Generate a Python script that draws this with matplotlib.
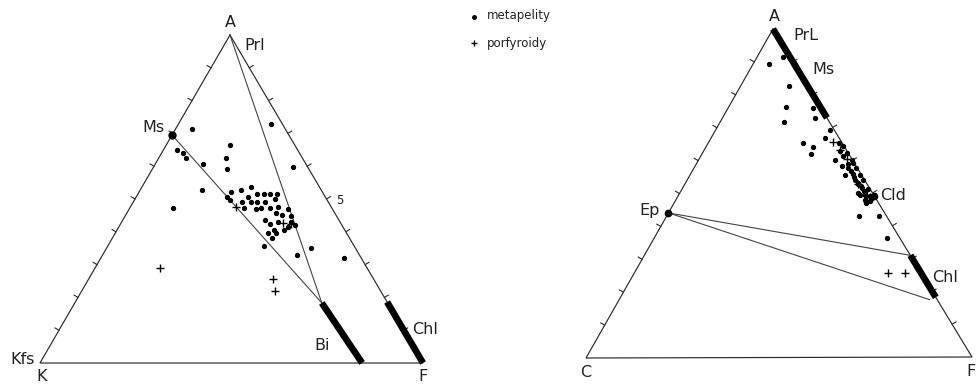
import numpy as np
import matplotlib
matplotlib.use('Agg')
import matplotlib.pyplot as plt

# A-K-F diagram (percent A, percent F; K is the rest)
akf_dots_A = [71.3, 72.9, 66.5, 64.9, 64.0, 62.5, 62.5, 59.8, 60.7, 59.1, 52.7, 47.3,
              52.0, 52.7, 53.8, 51.5, 51.5, 51.5, 51.5, 50.7, 49.7, 50.7, 49.0, 49.0,
              49.2, 49.2, 50.0, 47.2, 46.9, 47.2, 47.3, 47.7, 46.9, 45.6, 45.1, 44.9,
              43.6, 42.3, 43.1, 43.1, 42.1, 41.6, 40.5, 40.5, 39.5, 39.5, 38.2, 35.8,
              32.9, 35.0, 32.0]
akf_dots_F = [4.3, 24.2, 16.6, 3.6, 5.6, 7.1, 17.5, 36.4, 12.5, 19.5, 16.1, 11.3,
              24.2, 26.3, 28.4, 31.2, 32.9, 34.5, 36.4, 23.6, 25.0, 29.2, 28.4, 30.7,
              32.3, 34.4, 36.6, 29.9, 33.1, 34.2, 36.6, 38.4, 41.4, 38.9, 40.7, 43.3,
              37.1, 39.1, 40.8, 44.2, 45.7, 44.2, 41.1, 43.7, 40.0, 41.9, 41.7, 40.8,
              50.7, 53.3, 63.5]
akf_cross_A = [29.0, 25.6, 22.0, 47.7, 42.6, 42.4]
akf_cross_F = [17.0, 48.1, 50.5, 27.5, 42.4, 44.5]

akf_ms = (69.5, 0.0)
akf_bi = [(18.3, 64.5), (0.0, 84.1)]
akf_chl = [(18.6, 81.4), (0.0, 100.0)]

# A-C-F diagram (percent A, percent F; C is the rest)
acf_dots_A = [89.4, 91.5, 82.7, 76.3, 71.7, 76.0, 72.9, 69.3, 66.9, 65.3, 64.1, 62.0,
              65.3, 64.2, 62.7, 62.2, 61.2, 60.2, 60.2, 59.2, 58.1, 57.7, 57.7, 55.6,
              55.9, 55.6, 54.1, 53.9, 52.6, 51.6, 51.1, 50.1, 49.5, 49.0, 48.0, 48.2,
              58.8, 56.8, 54.8, 53.2, 52.0, 50.6, 49.4, 47.6, 46.9,
              42.9, 42.9, 36.2]
acf_dots_F = [4.1, 6.7, 12.5, 14.8, 16.6, 22.0, 24.0, 29.6, 29.5, 24.6, 27.7, 28.2,
              34.0, 35.5, 35.4, 37.6, 36.9, 35.4, 39.7, 40.5, 38.1, 40.0, 42.1, 40.2,
              42.1, 44.0, 43.5, 45.6, 45.1, 46.4, 48.4, 46.3, 48.3, 49.8, 49.0, 50.6,
              39.3, 41.2, 43.0, 44.6, 46.0, 47.4, 47.0, 50.5, 49.8,
              50.0, 55.2, 60.5]
acf_cross_A = [25.5, 25.5, 65.7, 63.0, 60.5, 52.6, 49.5, 48.8]
acf_cross_F = [65.9, 70.3, 32.2, 35.2, 38.2, 45.1, 48.8, 50.0]

acf_prl = [(100.0, 0.0), (72.9, 27.1)]
acf_cld = (49.2, 50.8)
acf_ep = (44.1, 0.0)
acf_chl = [(31.0, 69.0), (18.2, 81.8)]
acf_ep_ties = [(31.0, 69.0), (17.5, 80.5)]

# triangle corners in figure pixels: top (A), lower left, lower right
TRI_L = np.array([[230, 35], [40, 363], [423, 363]], float)
TRI_R = np.array([[773, 29], [586, 358], [972, 357]], float)


def tern(tri, a, f):
    a = np.asarray(a, float) / 100.
    f = np.asarray(f, float) / 100.
    b = 1. - a - f
    x = a * tri[0, 0] + b * tri[1, 0] + f * tri[2, 0]
    y = a * tri[0, 1] + b * tri[1, 1] + f * tri[2, 1]
    return x, y


def draw_frame(ax, tri, tick_edges):
    xs = list(tri[:, 0]) + [tri[0, 0]]
    ys = list(tri[:, 1]) + [tri[0, 1]]
    ax.plot(xs, ys, color='#2a2a2a', lw=0.85, solid_joinstyle='miter')
    cen = tri.mean(axis=0)
    for i, j in tick_edges:
        p, q = tri[i], tri[j]
        d = (q - p) / np.linalg.norm(q - p)
        n = np.array([-d[1], d[0]])
        if np.dot(n, (p + q) / 2 - cen) < 0:
            n = -n
        for t in np.arange(0.1, 0.95, 0.1):
            s = p + t * (q - p)
            e = s + 4.5 * n
            ax.plot([s[0], e[0]], [s[1], e[1]], color='#2a2a2a', lw=0.8)


def line(ax, tri, p0, p1, **kw):
    x, y = tern(tri, [p0[0], p1[0]], [p0[1], p1[1]])
    ax.plot(x, y, **kw)


fig = plt.figure(figsize=(9.78, 3.9), dpi=100)
ax = fig.add_axes([0, 0, 1, 1])
ax.set_xlim(0, 978)
ax.set_ylim(390, 0)
ax.axis('off')

tie = dict(color='#444444', lw=0.8)
bar = dict(color='black', lw=4.8, solid_capstyle='butt')
dot = dict(ls='none', marker='o', ms=2.8, color='black')
crs = dict(ls='none', marker='+', ms=6, mew=1.0, color='black')
lab = dict(fontsize=11.5, color='#222222', family='DejaVu Sans')

# ---- A-K-F ----
draw_frame(ax, TRI_L, [(0, 1), (0, 2)])
line(ax, TRI_L, (100, 0), akf_bi[0], **tie)
line(ax, TRI_L, akf_ms, akf_bi[0], **tie)
line(ax, TRI_L, akf_bi[0], akf_bi[1], **bar)
line(ax, TRI_L, akf_chl[0], akf_chl[1], **bar)
x, y = tern(TRI_L, *akf_ms)
ax.plot(x, y, 'o', ms=5, color='black')
x, y = tern(TRI_L, akf_dots_A, akf_dots_F)
ax.plot(x, y, **dot)
x, y = tern(TRI_L, akf_cross_A, akf_cross_F)
ax.plot(x, y, **crs)

ax.text(230, 30, 'A', ha='center', va='bottom', **lab)
ax.text(244, 45, 'Prl', ha='left', va='center', **lab)
ax.text(165, 128, 'Ms', ha='right', va='center', **lab)
ax.text(35, 360, 'Kfs', ha='right', va='center', **lab)
ax.text(42, 369, 'K', ha='center', va='top', **lab)
ax.text(423, 369, 'F', ha='center', va='top', **lab)
ax.text(322, 346, 'Bi', ha='center', va='center', **lab)
ax.text(412, 329, 'Chl', ha='left', va='center', **lab)
ax.text(336, 200, '5', ha='left', va='center', fontsize=8.5, color='#222222')

# legend
ax.plot([474], [17], **dict(dot, ms=2.5))
ax.text(487, 16, 'metapelity', ha='left', va='center', fontsize=8.5, color='#222222')
ax.plot([474], [43], **dict(crs, ms=5))
ax.text(487, 43, 'porfyroidy', ha='left', va='center', fontsize=8.5, color='#222222')

# ---- A-C-F ----
draw_frame(ax, TRI_R, [(0, 1), (0, 2)])
line(ax, TRI_R, acf_ep, acf_ep_ties[0], **tie)
line(ax, TRI_R, acf_ep, acf_ep_ties[1], **tie)
line(ax, TRI_R, acf_prl[0], acf_prl[1], **bar)
line(ax, TRI_R, acf_chl[0], acf_chl[1], **bar)
for pt in (acf_cld, acf_ep):
    x, y = tern(TRI_R, *pt)
    ax.plot(x, y, 'o', ms=4.5, color='black')
x, y = tern(TRI_R, acf_dots_A, acf_dots_F)
ax.plot(x, y, **dot)
x, y = tern(TRI_R, acf_cross_A, acf_cross_F)
ax.plot(x, y, **crs)

ax.text(774, 24, 'A', ha='center', va='bottom', **lab)
ax.text(793, 36, 'PrL', ha='left', va='center', **lab)
ax.text(812, 70, 'Ms', ha='left', va='center', **lab)
ax.text(880, 195, 'Cld', ha='left', va='center', **lab)
ax.text(660, 211, 'Ep', ha='right', va='center', **lab)
ax.text(932, 277, 'Chl', ha='left', va='center', **lab)
ax.text(586, 365, 'C', ha='center', va='top', **lab)
ax.text(971, 364, 'F', ha='center', va='top', **lab)

fig.savefig('out.png', dpi=100, facecolor='white')
